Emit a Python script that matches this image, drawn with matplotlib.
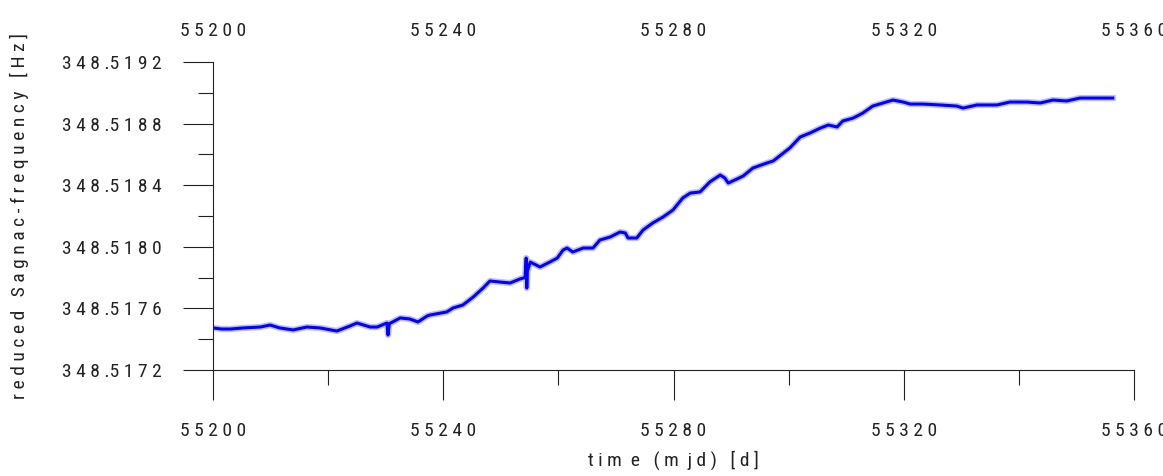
import matplotlib
matplotlib.use("Agg")
import matplotlib.pyplot as plt
from matplotlib.ticker import MultipleLocator, FuncFormatter

plt.rcParams['font.family'] = ['Roboto Condensed', 'Liberation Sans', 'DejaVu Sans']

# time (mjd) and reduced Sagnac frequency (Hz)
mjd = [55200.0, 55201.5, 55203.0, 55205.2, 55208.2, 55209.9, 55211.6, 55213.9,
       55216.3, 55218.6, 55221.5, 55223.8, 55225.0, 55227.3, 55228.5, 55230.2,
       55230.4, 55230.6, 55232.5, 55234.2, 55235.6, 55237.2, 55237.7, 55240.6,
       55241.7, 55243.4, 55245.2, 55246.9, 55248.1, 55249.9, 55251.6, 55253.3,
       55254.2, 55254.4, 55254.5, 55254.6, 55255.1, 55256.8, 55258.5, 55259.8,
       55260.8, 55261.5, 55262.5, 55264.3, 55266.0, 55267.2, 55269.0, 55270.7,
       55271.6, 55272.1, 55273.6, 55274.7, 55276.4, 55278.2, 55279.9, 55281.6,
       55282.9, 55284.6, 55286.3, 55288.1, 55288.9, 55289.5, 55291.0, 55292.1,
       55293.8, 55296.2, 55297.3, 55300.2, 55302.0, 55303.7, 55305.5, 55306.9,
       55308.4, 55309.4, 55311.2, 55312.9, 55314.6, 55316.4, 55318.1, 55319.9,
       55321.1, 55323.3, 55326.3, 55329.2, 55330.3, 55332.7, 55336.2, 55338.4,
       55341.4, 55343.7, 55345.9, 55348.3, 55350.6, 55352.9, 55356.3]
freq = [348.517473, 348.517466, 348.517466, 348.517473, 348.517479, 348.517492,
        348.517473, 348.517460, 348.517479, 348.517473, 348.517453, 348.517486,
        348.517505, 348.517479, 348.517479, 348.517505, 348.517427, 348.517500,
        348.517538, 348.517531, 348.517512, 348.517551, 348.517557, 348.517577,
        348.517603, 348.517622, 348.517674, 348.517732, 348.517778, 348.517771,
        348.517765, 348.517791, 348.517800, 348.517927, 348.517732, 348.517840,
        348.517901, 348.517869, 348.517901, 348.517927, 348.517979, 348.517992,
        348.517966, 348.517992, 348.517992, 348.518044, 348.518064, 348.518096,
        348.518090, 348.518057, 348.518057, 348.518109, 348.518155, 348.518194,
        348.518239, 348.518317, 348.518349, 348.518356, 348.518421, 348.518466,
        348.518447, 348.518414, 348.518440, 348.518460, 348.518512, 348.518544,
        348.518557, 348.518642, 348.518713, 348.518739, 348.518771, 348.518791,
        348.518778, 348.518817, 348.518836, 348.518869, 348.518914, 348.518934,
        348.518953, 348.518940, 348.518927, 348.518927, 348.518921, 348.518914,
        348.518901, 348.518921, 348.518921, 348.518940, 348.518940, 348.518934,
        348.518953, 348.518947, 348.518966, 348.518966, 348.518966]


def spaced(s):
    # letter-spaced text, words separated by a wider gap
    words = s.split(' ')
    return '   '.join(' '.join(w) for w in words).replace(' . ', ' .')


fig = plt.figure(figsize=(11.63, 4.76), dpi=100)
ax = fig.add_axes([0.1832, 0.2227, 0.7919, 0.6470])

ax.plot(mjd, freq, color='#0000ff', lw=4.5, alpha=0.25, solid_joinstyle='round')
ax.plot(mjd, freq, color='#0000ff', lw=2.2)

ax.set_xlim(55200, 55360)
ax.set_ylim(348.5172, 348.5192)

for side in ['top', 'right']:
    ax.spines[side].set_visible(False)
for side in ['left', 'bottom']:
    ax.spines[side].set_linewidth(0.8)
    ax.spines[side].set_color('#222222')

ax.xaxis.set_major_locator(MultipleLocator(40))
ax.xaxis.set_minor_locator(MultipleLocator(20))
ax.yaxis.set_major_locator(MultipleLocator(0.0004))
ax.yaxis.set_minor_locator(MultipleLocator(0.0002))
ax.xaxis.set_major_formatter(FuncFormatter(lambda v, p: spaced('%d' % round(v))))
ax.yaxis.set_major_formatter(FuncFormatter(lambda v, p: spaced('%.4f' % v)))

ax.tick_params(which='major', direction='out', length=21.6, width=0.8,
               color='#222222', pad=15.5, labelsize=14, labelcolor='#222222')
ax.tick_params(which='minor', direction='out', length=10.8, width=0.8,
               color='#222222')

# same scale repeated above the plot, labels only
top = ax.secondary_xaxis('top')
top.xaxis.set_major_locator(MultipleLocator(40))
top.xaxis.set_major_formatter(FuncFormatter(lambda v, p: spaced('%d' % round(v))))
top.spines['top'].set_visible(False)
top.tick_params(which='both', length=0, pad=16, labelsize=14, labelcolor='#222222')

ax.set_xlabel('t i m  e   ( m  j d )   [ d ]', fontsize=14, color='#222222')
ax.xaxis.set_label_coords(0.5, -0.262)
ax.set_ylabel(spaced('reduced Sagnac-frequency [Hz]'), fontsize=14, color='#222222')
ax.yaxis.set_label_coords(-0.200, 0.5)

fig.savefig('out.png', dpi=100, facecolor='white')
